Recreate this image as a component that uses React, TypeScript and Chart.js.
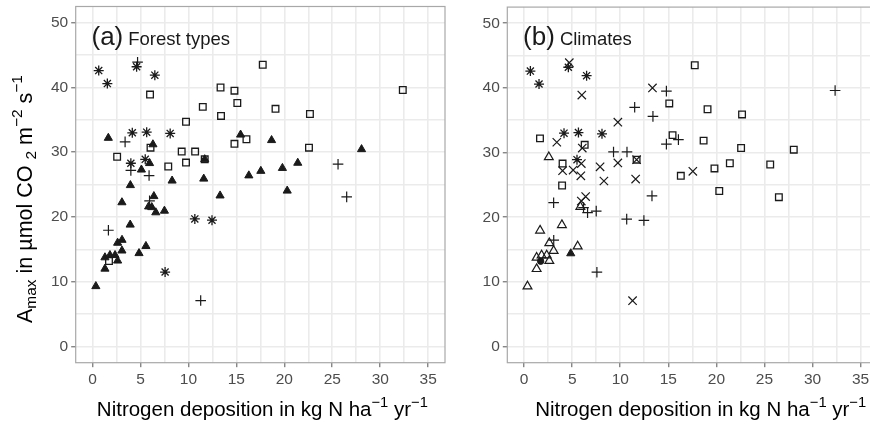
import React, { useEffect, useRef } from 'react';
import { Chart, registerables } from 'chart.js';

Chart.register(...registerables);

// ---------- data ----------
const nDeposition = [0.65, 1.55, 4.7, 4.6, 6.5, 6.0, 13.35, 14.8, 15.1, 11.5, 13.4, 9.75, 1.65, 3.4, 4.15, 5.65, 8.1, 6.3, 6.05, 15.44, 16.05, 14.8, 2.57, 9.3, 10.7, 9.75, 11.7, 11.7, 4.0, 4.0, 5.5, 5.95, 5.1, 5.9, 7.9, 8.3, 11.6, 16.3, 3.95, 6.4, 13.3, 17.75, 32.35, 19.08, 22.67, 18.67, 22.57, 28.05, 21.4, 19.8, 17.55, 25.6, 20.3, 26.5, 5.95, 3.07, 5.85, 6.18, 6.6, 7.5, 10.67, 12.46, 1.66, 3.93, 3.08, 2.62, 3.07, 5.57, 4.85, 1.3, 1.82, 2.35, 2.62, 1.3, 1.72, 7.57, 0.35, 11.28];

const aMax = [42.6, 40.6, 43.9, 43.2, 41.9, 38.9, 40.0, 39.5, 37.6, 37.0, 35.6, 34.7, 32.2, 31.6, 33.0, 33.1, 32.9, 31.2, 30.7, 32.7, 32.0, 31.3, 29.3, 30.1, 30.1, 28.4, 28.9, 28.9, 28.3, 27.2, 28.9, 28.3, 27.3, 26.4, 27.8, 25.6, 25.9, 26.4, 24.9, 23.2, 23.3, 43.5, 39.6, 36.7, 35.9, 31.85, 30.7, 30.45, 28.35, 27.55, 27.1, 28.15, 24.05, 23.1, 22.5, 22.25, 21.6, 21.5, 20.7, 20.95, 19.7, 19.5, 17.95, 18.8, 16.45, 16.0, 14.8, 15.5, 14.4, 13.75, 14.1, 14.1, 13.25, 12.0, 13.2, 11.5, 9.3, 7.1];

// forest type group of each point: T, S, A, P
const forestType = ['A', 'A', 'P', 'A', 'A', 'S', 'S', 'S', 'S', 'S', 'S', 'S', 'T', 'P', 'A', 'A', 'A', 'T', 'S', 'T', 'S', 'S', 'S', 'S', 'S', 'S', 'T', 'S', 'A', 'P', 'A', 'T', 'T', 'P', 'S', 'T', 'T', 'T', 'T', 'T', 'T', 'S', 'S', 'S', 'S', 'T', 'S', 'T', 'T', 'T', 'T', 'P', 'T', 'P', 'P', 'T', 'T', 'T', 'T', 'T', 'A', 'A', 'P', 'T', 'T', 'T', 'T', 'T', 'T', 'T', 'T', 'T', 'T', 'T', 'S', 'A', 'T', 'P'];

// climate group of each point: S, X, P, A, O, F, C
const climate = ['A', 'A', 'X', 'A', 'A', 'X', 'X', 'P', 'S', 'P', 'P', 'X', 'S', 'X', 'A', 'A', 'A', 'S', 'X', 'S', 'P', 'P', 'O', 'P', 'P', 'X', 'S', 'X', 'S', 'X', 'A', 'X', 'X', 'X', 'X', 'X', 'X', 'S', 'S', 'X', 'P', 'S', 'P', 'S', 'S', 'S', 'S', 'S', 'S', 'S', 'X', 'S', 'S', 'S', 'X', 'P', 'O', 'P', 'P', 'P', 'P', 'P', 'O', 'O', 'P', 'O', 'O', 'O', 'F', 'O', 'O', 'O', 'O', 'O', 'C', 'P', 'O', 'X'];

const forestGroups = ['T', 'S', 'A', 'P'];
const climateGroups = ['S', 'X', 'P', 'A', 'O', 'F', 'C'];

const xMajorTicks = [0, 5, 10, 15, 20, 25, 30, 35];
const xMinorTicks = [2.5, 7.5, 12.5, 17.5, 22.5, 27.5, 32.5, 37.5];
const yMajorTicks = [0, 10, 20, 30, 40, 50];
const yMinorTicks = [5, 15, 25, 35, 45];

// ---------- styles ----------
const FONT = "'Liberation Sans', Arial, Helvetica, sans-serif";
const INK = '#1a1a1a';

const SYMBOL: Record<string, any> = {
  tri: { pointStyle: 'triangle', radius: 4.7, fill: true, borderWidth: 1 },
  sq: { pointStyle: 'rect', radius: 4.7, fill: false, borderWidth: 1.3 },
  ast: { pointStyle: 'star', radius: 5, fill: false, borderWidth: 1.3 },
  plus: { pointStyle: 'cross', radius: 5.3, fill: false, borderWidth: 1.2 },
  x: { pointStyle: 'crossRot', radius: 5.9, fill: false, borderWidth: 1.2 },
  otri: { pointStyle: 'triangle', radius: 5.1, fill: false, borderWidth: 1.2 },
  circ: { pointStyle: 'circle', radius: 3.2, fill: true, borderWidth: 1 },
};

const forestSymbol: Record<string, string> = { T: 'tri', S: 'sq', A: 'ast', P: 'plus' };
const climateSymbol: Record<string, string> = { S: 'sq', X: 'x', P: 'plus', A: 'ast', O: 'otri', F: 'tri', C: 'circ' };

type Part = { t: string; scale?: number; shift?: number };

function drawRich(ctx: CanvasRenderingContext2D, parts: Part[], x: number, y: number, size: number, align: 'center' | 'left') {
  const widths = parts.map((p) => {
    ctx.font = `${size * (p.scale ?? 1)}px ${FONT}`;
    return ctx.measureText(p.t).width;
  });
  const total = widths.reduce((a, b) => a + b, 0);
  let cx = align === 'center' ? x - total / 2 : x;
  ctx.textAlign = 'left';
  ctx.textBaseline = 'alphabetic';
  parts.forEach((p, i) => {
    ctx.font = `${size * (p.scale ?? 1)}px ${FONT}`;
    ctx.fillText(p.t, cx, y - (p.shift ?? 0) * size);
    cx += widths[i];
  });
}

const xTitleParts: Part[] = [
  { t: 'Nitrogen deposition in kg N ha' },
  { t: '\u22121', scale: 0.72, shift: 0.42 },
  { t: ' yr' },
  { t: '\u22121', scale: 0.72, shift: 0.42 },
];

const yTitleParts: Part[] = [
  { t: 'A' },
  { t: 'max', scale: 0.72, shift: -0.22 },
  { t: ' in \u00b5mol CO ' },
  { t: '2', scale: 0.72, shift: -0.22 },
  { t: ' m' },
  { t: '\u22122', scale: 0.72, shift: 0.42 },
  { t: ' s' },
  { t: '\u22121', scale: 0.72, shift: 0.42 },
];

type PanelProps = {
  mode: 'forest' | 'climate';
  left: number;
  width: number;
  axisWidth: number;
  padRight: number;
  xMax: number;
  tag: string;
  title: string;
  yTitle: boolean;
};

function Panel({ mode, left, width, axisWidth, padRight, xMax, tag, title, yTitle }: PanelProps) {
  const ref = useRef<HTMLCanvasElement | null>(null);

  useEffect(() => {
    const canvas = ref.current;
    if (!canvas) return;
    const groups = mode === 'forest' ? forestGroups : climateGroups;
    const codes = mode === 'forest' ? forestType : climate;
    const symMap = mode === 'forest' ? forestSymbol : climateSymbol;

    const datasets = groups.map((g) => {
      const s = SYMBOL[symMap[g]];
      const data = nDeposition
        .map((x, i) => ({ x, y: aMax[i], g: codes[i] }))
        .filter((p) => p.g === g)
        .map((p) => ({ x: p.x, y: p.y }));
      return {
        label: g,
        data,
        pointStyle: s.pointStyle,
        pointRadius: s.radius,
        pointHoverRadius: s.radius,
        pointBorderWidth: s.borderWidth,
        pointBorderColor: INK,
        pointBackgroundColor: s.fill ? INK : 'rgba(0,0,0,0)',
        borderColor: INK,
        backgroundColor: s.fill ? INK : 'rgba(0,0,0,0)',
        clip: false as any,
      };
    });

    const xAll = [...xMajorTicks, ...xMinorTicks].filter((v) => v <= xMax).sort((a, b) => a - b);
    const yAll = [...yMajorTicks, ...yMinorTicks].sort((a, b) => a - b);

    const decor = {
      id: 'decor',
      afterDraw(chart: any) {
        const { ctx, chartArea: a, scales } = chart;
        ctx.save();
        // panel border
        ctx.strokeStyle = '#a8a8a8';
        ctx.lineWidth = 1.2;
        ctx.strokeRect(a.left, a.top, a.right - a.left, a.bottom - a.top);
        // panel tag & title
        ctx.fillStyle = INK;
        ctx.textAlign = 'left';
        ctx.textBaseline = 'alphabetic';
        const x0 = scales.x.getPixelForValue(0) - 1;
        const yb = scales.y.getPixelForValue(46.6);
        ctx.font = `26px ${FONT}`;
        ctx.fillText(tag, x0, yb);
        const tw = ctx.measureText(tag).width;
        ctx.font = `18.5px ${FONT}`;
        ctx.fillText(title, x0 + tw + 5, yb);
        // axis titles
        ctx.fillStyle = '#000';
        drawRich(ctx, xTitleParts, (a.left + a.right) / 2 + 2, 416, 20.5, 'center');
        if (yTitle) {
          ctx.save();
          ctx.translate(31.5, 199);
          ctx.rotate(-Math.PI / 2);
          drawRich(ctx, yTitleParts, 0, 0, 21.5, 'center');
          ctx.restore();
        }
        ctx.restore();
      },
    };

    const chart = new Chart(canvas, {
      type: 'scatter',
      data: { datasets: datasets as any },
      options: {
        animation: false,
        responsive: false,
        maintainAspectRatio: false,
        layout: { padding: { top: 6.5, right: padRight, left: 0, bottom: 0 } },
        plugins: { legend: { display: false }, tooltip: { enabled: false } },
        scales: {
          x: {
            type: 'linear',
            min: -1.75,
            max: xMax,
            afterBuildTicks: (scale: any) => {
              scale.ticks = xAll.map((v) => ({ value: v }));
            },
            afterFit: (scale: any) => {
              scale.height = 424 - 362.7;
              scale.paddingLeft = 0;
              scale.paddingRight = 0;
            },
            ticks: {
              autoSkip: false,
              maxRotation: 0,
              padding: 3,
              color: '#4d4d4d',
              font: { family: FONT, size: 15.5 },
              callback: (v: any) => (xMajorTicks.includes(Number(v)) ? String(v) : ''),
            },
            grid: {
              color: '#ebebeb',
              lineWidth: 1.6,
              tickLength: 4.5,
              tickWidth: 1,
              tickColor: (c: any) => (c.tick && xMajorTicks.includes(c.tick.value) ? '#555555' : 'rgba(0,0,0,0)'),
            },
            border: { display: false },
          },
          y: {
            type: 'linear',
            min: -2.5,
            max: 52.5,
            afterBuildTicks: (scale: any) => {
              scale.ticks = yAll.map((v) => ({ value: v }));
            },
            afterFit: (scale: any) => {
              scale.width = axisWidth;
              scale.paddingTop = 0;
              scale.paddingBottom = 0;
            },
            ticks: {
              autoSkip: false,
              padding: 3,
              color: '#4d4d4d',
              font: { family: FONT, size: 15.5 },
              callback: (v: any) => (yMajorTicks.includes(Number(v)) ? String(v) : ''),
            },
            grid: {
              color: '#ebebeb',
              lineWidth: 1.6,
              tickLength: 4.5,
              tickWidth: 1,
              tickColor: (c: any) => (c.tick && yMajorTicks.includes(c.tick.value) ? '#555555' : 'rgba(0,0,0,0)'),
            },
            border: { display: false },
          },
        },
      } as any,
      plugins: [decor],
    });
    return () => chart.destroy();
  }, [mode, left, width, axisWidth, padRight, xMax, tag, title, yTitle]);

  return (
    <canvas
      ref={ref}
      width={width}
      height={424}
      style={{ position: 'absolute', left, top: 0, width, height: 424, display: 'block' }}
    />
  );
}

export default function App() {
  return (
    <div
      style={{
        position: 'fixed',
        left: 0,
        top: 0,
        width: 870,
        height: 424,
        overflow: 'hidden',
        background: '#ffffff',
      }}
    >
      <Panel mode="forest" left={0} width={460} axisWidth={75.7} padRight={15} xMax={36.75} tag="(a)" title="Forest types" yTitle={true} />
      <Panel mode="climate" left={460} width={440} axisWidth={47.3} padRight={10} xMax={38.06} tag="(b)" title="Climates" yTitle={false} />
    </div>
  );
}
